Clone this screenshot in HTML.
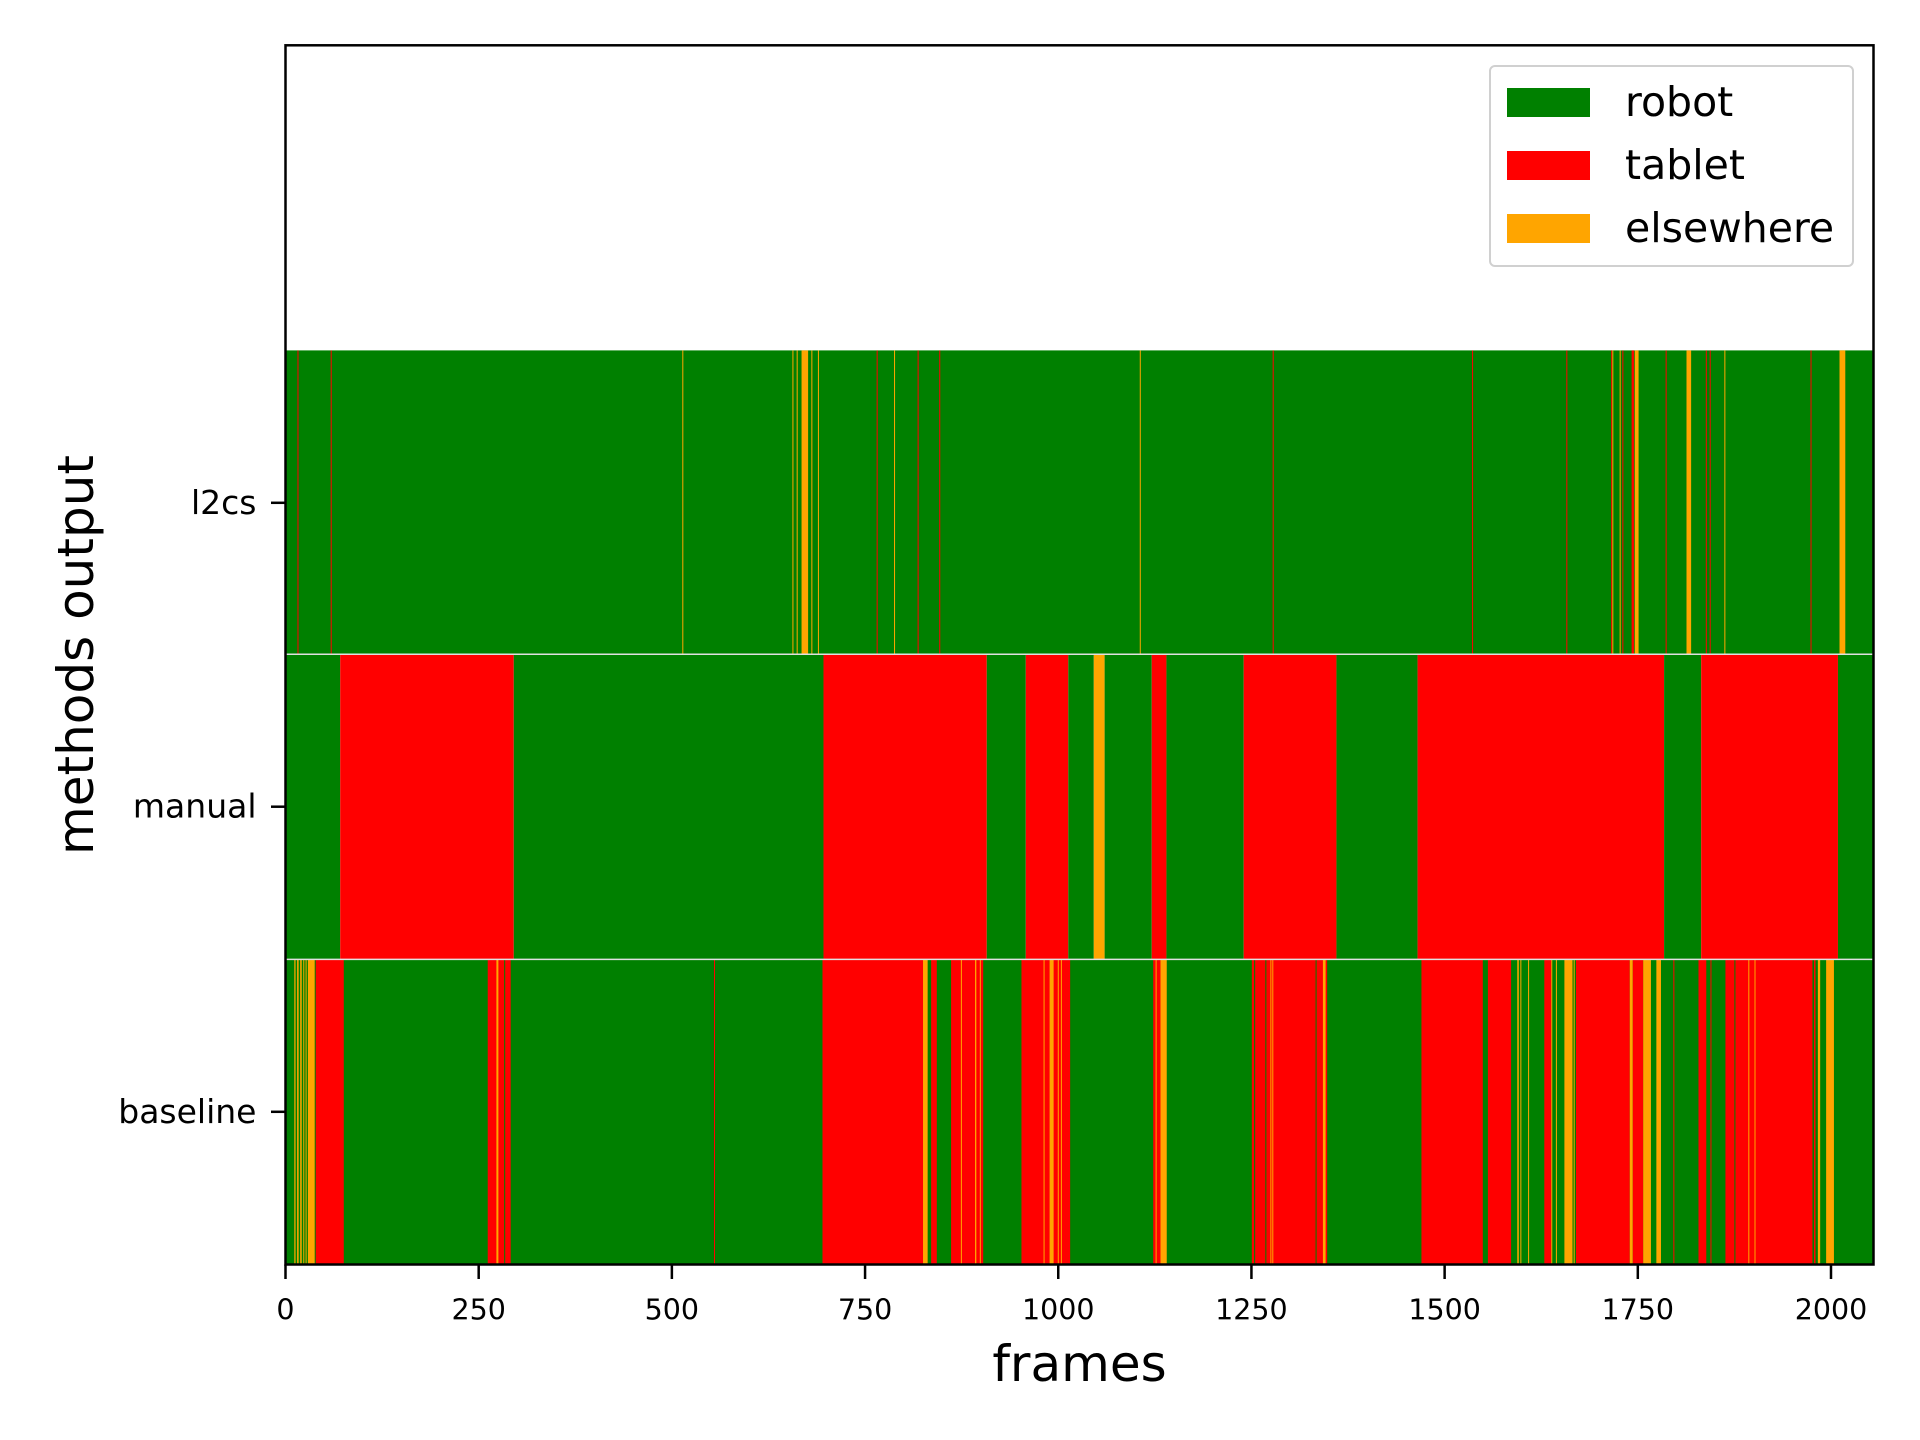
<!DOCTYPE html>
<html><head><meta charset="utf-8"><style>
body{margin:0;background:#fff;}
svg{display:block;font-family:"DejaVu Sans","Liberation Sans",sans-serif;}
</style></head><body>
<svg id="chart" width="1920" height="1440" viewBox="0 0 1920 1440">
<g id="bars"></g>
<g id="axes"></g>
</svg>
<script>
const rows = ['l2cs','manual','baseline'];
const categories = ['robot','tablet','elsewhere'];
const catColors = {robot:'#008000',tablet:'#ff0000',elsewhere:'#ffa500'};
const xTicks = [0,250,500,750,1000,1250,1500,1750,2000];
const xMax = 2055;
const l2csSegs = [[0,2055,'robot'],[15.5,16.5,'tablet'],[58.5,59.5,'tablet'],[513.5,514.5,'elsewhere'],[656,657,'elsewhere'],[661.5,662.5,'elsewhere'],[667.8,676.3,'elsewhere'],[680.5,681.5,'elsewhere'],[689,690,'elsewhere'],[765,766,'tablet'],[787.5,788.5,'elsewhere'],[818,819,'tablet'],[846,847,'tablet'],[1105.5,1106.5,'elsewhere'],[1277.5,1278.5,'tablet'],[1535.5,1536.5,'tablet'],[1657.5,1658.5,'tablet'],[1715.5,1716.5,'tablet'],[1717,1718,'elsewhere'],[1726.5,1727.5,'elsewhere'],[1730,1731,'tablet'],[1742,1745,'tablet'],[1746,1751,'elsewhere'],[1786,1787,'tablet'],[1813,1819,'elsewhere'],[1838,1839,'tablet'],[1843,1844,'tablet'],[1862,1863,'elsewhere'],[1973.5,1974.5,'tablet'],[2011,2018.5,'elsewhere']];
const manualSegs = [[0,70.8,'robot'],[70.8,295.4,'tablet'],[295.4,696.2,'robot'],[696.2,907.5,'tablet'],[907.5,958,'robot'],[958,1013,'tablet'],[1013,1046,'robot'],[1046,1060,'elsewhere'],[1060,1121,'robot'],[1121,1140,'tablet'],[1140,1240,'robot'],[1240,1360,'tablet'],[1360,1465,'robot'],[1465,1784,'tablet'],[1784,1832,'robot'],[1832,2009,'tablet'],[2009,2055,'robot']];
const baselineSegs = [[0,2055,'robot'],[11.4,13,'elsewhere'],[15,17,'elsewhere'],[19,21,'elsewhere'],[23,24,'elsewhere'],[26,27,'elsewhere'],[29,37.8,'elsewhere'],[39.1,75.4,'tablet'],[261.7,291.4,'tablet'],[272.9,275.5,'elsewhere'],[283,284,'robot'],[554.5,555.5,'tablet'],[694.9,825,'tablet'],[825,831,'elsewhere'],[835.5,842.8,'tablet'],[861.3,902.9,'tablet'],[874,875,'elsewhere'],[892.3,894,'elsewhere'],[898.5,899.5,'elsewhere'],[952.4,1015.4,'tablet'],[981,982,'elsewhere'],[988.8,994,'elsewhere'],[999.4,1000.4,'elsewhere'],[1003.4,1004.4,'elsewhere'],[1122.9,1132.3,'tablet'],[1126,1127,'elsewhere'],[1132.3,1140.4,'elsewhere'],[1250.5,1331,'tablet'],[1253.5,1254.5,'robot'],[1268,1269,'robot'],[1274.5,1275.5,'elsewhere'],[1277,1278,'elsewhere'],[1331,1348,'tablet'],[1333,1334,'robot'],[1342.5,1346,'elsewhere'],[1470,1549.4,'tablet'],[1556,1586,'tablet'],[1594,1596,'elsewhere'],[1598,1599,'elsewhere'],[1608,1609,'elsewhere'],[1617,1629,'robot'],[1629,1638,'tablet'],[1638,1639,'elsewhere'],[1644,1645,'elsewhere'],[1655,1665.5,'elsewhere'],[1667,1668,'elsewhere'],[1670,1739.6,'tablet'],[1739.6,1743.5,'elsewhere'],[1743.5,1757,'tablet'],[1757,1767,'elsewhere'],[1774,1780,'elsewhere'],[1796,1797,'tablet'],[1828.5,1838.6,'tablet'],[1844,1845,'tablet'],[1863.4,1976,'tablet'],[1875,1876,'robot'],[1893,1894,'elsewhere'],[1901,1902,'elsewhere'],[1978,1980,'tablet'],[1983,1986,'elsewhere'],[1993.7,2003.8,'elsewhere']];
const rowData = [l2csSegs, manualSegs, baselineSegs];

const L=285.5, R=1873.5, T=45.3, B=1264.5;
const rowTop=[350.4,654.3,959.4], rowH=304.8;
const NS='http://www.w3.org/2000/svg';
function xs(v){return L+(v/xMax)*(R-L);}
function mk(tag,attrs,parent){const e=document.createElementNS(NS,tag);for(const k in attrs)e.setAttribute(k,attrs[k]);parent.appendChild(e);return e;}
const bars=document.getElementById('bars'), axes=document.getElementById('axes');
rowData.forEach((segs,ri)=>{
  segs.forEach(s=>{
    const x0=xs(s[0]), x1=xs(s[1]);
    const r=mk('rect',{x:x0,y:rowTop[ri],width:Math.max(x1-x0,1),height:rowH,fill:catColors[s[2]]},bars);
    
    
  });
});
for(let i=1;i<3;i++){
  const ln=mk('line',{x1:L,x2:R,y1:rowTop[i],y2:rowTop[i],stroke:'#e0e0e0','stroke-width':1.5},bars);
  
  
}
const frame=mk('rect',{x:L,y:T,width:R-L,height:B-T,fill:'none',stroke:'#000','stroke-width':2.5},axes);


xTicks.forEach(t=>{
  const x=xs(t);
  const tk=mk('line',{x1:x,x2:x,y1:B,y2:B+14.5,stroke:'#000','stroke-width':2.5},axes);
  
  
  const lb=mk('text',{x:x,y:B+55,'text-anchor':'middle','font-size':'28.5px',fill:'#000'},axes);
  lb.textContent=t;
  
  
});
rows.forEach((r,i)=>{
  const y=rowTop[i]+rowH/2;
  const tk=mk('line',{x1:L-14.5,x2:L,y1:y,y2:y,stroke:'#000','stroke-width':2.5},axes);
  
  
  const lb=mk('text',{x:L-29,y:y+11,'text-anchor':'end','font-size':'33px',fill:'#000'},axes);
  lb.textContent=r;
  
  
});
const xl=mk('text',{x:(L+R)/2,y:1381,'text-anchor':'middle','font-size':'50px',fill:'#000'},axes);
xl.textContent='frames';


const yl=mk('text',{x:0,y:0,'text-anchor':'middle','font-size':'50px',fill:'#000',transform:'translate(93,655) rotate(-90)'},axes);
yl.textContent='methods output';


const lg=mk('g',{},axes);


const lbox=mk('rect',{x:1490,y:66,width:363,height:200,rx:5,fill:'#fff',stroke:'#d0d0d0','stroke-width':2},lg);


categories.forEach((c,i)=>{
  const y=102+i*63;
  const p=mk('rect',{x:1507,y:y-14,width:83,height:29,fill:catColors[c]},lg);
  
  
  const t=mk('text',{x:1625,y:y+14,'font-size':'41px',fill:'#000'},lg);
  t.textContent=c;
  
  
});
</script>
</body></html>
